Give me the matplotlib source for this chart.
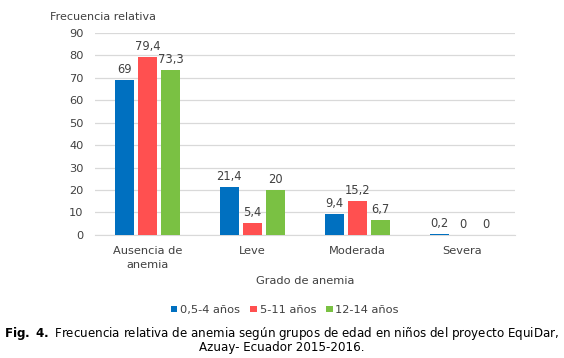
import numpy as np
import matplotlib.pyplot as plt

categories = ["Ausencia de\nanemia", "Leve", "Moderada", "Severa"]
series_names = ["0,5-4 años", "5-11 años", "12-14 años"]
v_05_4 = [69, 21.4, 9.4, 0.2]
v_5_11 = [79.4, 5.4, 15.2, 0]
v_12_14 = [73.3, 20, 6.7, 0]
colors = ["#0070C0", "#FF5050", "#7AC143"]

plt.rcParams["font.family"] = "DejaVu Sans"
plt.rcParams["font.size"] = 8.2

fig = plt.figure(figsize=(5.64, 3.58), dpi=100)
ax = fig.add_axes([0.168, 0.344, 0.745, 0.564])

x = np.arange(len(categories))
w = 0.18
gap = 0.04
for i, (vals, name) in enumerate(zip([v_05_4, v_5_11, v_12_14], series_names)):
    pos = x + (i - 1) * (w + gap)
    bars = ax.bar(pos, vals, width=w, color=colors[i], label=name, zorder=3)
    for b, v in zip(bars, vals):
        lab = ("%g" % v).replace(".", ",")
        ax.annotate(lab, (b.get_x() + b.get_width() / 2, v), xytext=(0, 3),
                    textcoords="offset points", ha="center", va="bottom",
                    color="#404040", fontsize=8.3)

ax.set_xlim(-0.5, 3.5)
ax.set_ylim(0, 90)
ax.set_yticks(range(0, 91, 10))
ax.set_xticks(x)
ax.set_xticklabels(categories, color="#404040", linespacing=1.5)
ax.tick_params(axis="y", colors="#404040", length=0, pad=8)
ax.tick_params(axis="x", length=0, pad=8)
ax.grid(axis="y", color="#D9D9D9", linewidth=0.9, zorder=0)
for s in ["top", "right", "left"]:
    ax.spines[s].set_visible(False)
ax.spines["bottom"].set_color("#D9D9D9")

ax.set_xlabel("Grado de anemia", color="#404040", labelpad=4)
fig.text(50 / 564, 1 - 17 / 358, "Frecuencia relativa", color="#404040",
         va="center", ha="left", fontsize=8)

fig.legend(loc="center", bbox_to_anchor=(285 / 564, 1 - 310 / 358), ncol=3,
           frameon=False, handlelength=0.55, handleheight=0.55,
           handletextpad=0.25, columnspacing=0.9, labelcolor="#404040")

fig.text(0.5, 1 - 333 / 358,
         r"$\bf{Fig.\ 4.}$ Frecuencia relativa de anemia según grupos de edad en niños del proyecto EquiDar,",
         ha="center", va="center", fontsize=8.6)
fig.text(0.5, 1 - 348 / 358, "Azuay- Ecuador 2015-2016.",
         ha="center", va="center", fontsize=8.6)

fig.savefig("out.png", dpi=100)
